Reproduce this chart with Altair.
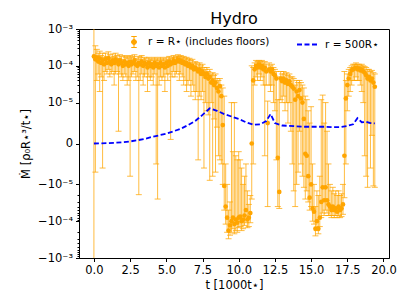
import math
import altair as alt
import pandas as pd

# Mass flux values are given in units of 1e-5 (rho0 R*^3 / t*)
ORANGE_LABEL = "r = R⋆  (includes floors)"
BLUE_LABEL = "r = 500R⋆"

T_A = [0.0, 0.1, 0.2, 0.3, 0.4, 0.5, 0.6, 0.7, 0.8, 0.9,
       1.0, 1.1, 1.2, 1.3, 1.4, 1.5, 1.6, 1.7, 1.8, 1.9,
       2.0, 2.1, 2.2, 2.3, 2.4, 2.5, 2.6, 2.7, 2.8, 2.9,
       3.0, 3.1, 3.2, 3.3, 3.4, 3.5, 3.6, 3.7, 3.8, 3.9,
       4.0, 4.1, 4.2, 4.3, 4.4, 4.5, 4.6, 4.7, 4.8, 4.9,
       5.0, 5.1, 5.2, 5.3, 5.4, 5.5, 5.6, 5.7, 5.8, 5.9,
       6.0, 6.1, 6.2, 6.3, 6.4, 6.5, 6.6, 6.7, 6.8, 6.9,
       7.0, 7.1, 7.2, 7.3, 7.4, 7.5, 7.6, 7.7, 7.8, 7.9,
       8.0, 8.1, 8.2, 8.3]
Y_A = [18, 15, 17, 13, 16, 12, 14, 11, 15, 12,
       16, 13, 11, 14, 12, 15, 13, 11, 14, 12,
       10, 13, 11, 12, 10, 13, 11, 12, 14, 11,
       10, 12, 11, 13, 10, 12, 11, 9, 12, 10,
       11, 9, 12, 10, 11, 9, 12, 10, 11, 9,
       12, 10, 13, 11, 12, 14, 12, 13, 15, 13,
       14, 12, 13, 11, 12, 10, 11, 9, 10, 8,
       9, 8, 7, 8, 6, 7, 6, 5, 6, 4.5,
       5, 3.5, 4, 3]
LO_A = [-300, -0.7, 4, 6, 2, 5, -0.6, 4, 7, 6,
        8, 5, 6, 7, 3, 6, 7, 0.3, 6, 5,
        4, 6, 5, 3, 4, -0.8, 5, 6, 7, 4,
        5, -1.9, 4, 6, 3, 5, 6, 2, 5, 4,
        5, 3, 6, -0.5, -2.5, 3, 5, 4, 5, 2,
        6, 4, 6, 0.1, 5, 7, 5, 6, 7, 4,
        6, 5, 3, 4, 2, 3, 4, 1.5, 3, 2,
        1.2, 2, -0.4, 1.5, 1.2, 2, -0.6, 1, 0.8, 0.7,
        -0.9, 1, -0.8, 0.6]
HI_A = [300, 35, 28, 22, 25, 19, 22, 17, 22, 18,
        24, 20, 17, 21, 18, 22, 19, 16, 20, 18,
        15, 19, 17, 18, 16, 19, 17, 18, 20, 16,
        15, 18, 17, 19, 15, 17, 16, 14, 17, 15,
        16, 14, 17, 15, 16, 14, 17, 15, 16, 14,
        17, 15, 18, 16, 17, 19, 17, 18, 20, 18,
        19, 17, 18, 16, 17, 15, 16, 14, 15, 12,
        13, 12, 11, 12, 10, 11, 9, 8, 9, 7,
        8, 6, 6.5, 5.5]

T_B = [8.4, 8.5, 8.6, 8.7, 8.8, 8.9, 9.0, 9.1, 9.2, 9.3,
       9.4, 9.5, 9.6, 9.7, 9.8, 9.9, 10.0, 10.1, 10.2, 10.3,
       10.4, 10.5, 10.6, 10.7, 10.8, 10.9, 11.0, 11.1, 11.2, 11.3,
       11.4, 11.5, 11.6, 11.7, 11.8, 11.9, 12.0, 12.1, 12.2, 12.3,
       12.4, 12.5, 12.6, 12.7, 12.8, 12.9, 13.0, 13.1, 13.2, 13.3,
       13.4, 13.5, 13.6, 13.7, 13.8, 13.9, 14.0, 14.1, 14.2, 14.3,
       14.4, 14.5, 14.6, 14.7, 14.8, 14.9, 15.0, 15.1, 15.2, 15.3,
       15.4, 15.5, 15.6, 15.7, 15.8, 15.9, 16.0, 16.1, 16.2, 16.3,
       16.4, 16.5, 16.6, 16.7, 16.8, 16.9, 17.0, 17.1, 17.2, 17.3,
       17.4, 17.5, 17.6, 17.7, 17.8, 17.9, 18.0, 18.1, 18.2, 18.3,
       18.4, 18.5, 18.6, 18.7, 18.8, 18.9, 19.0, 19.1, 19.2, 19.3,
       19.4]
Y_B = [3.5, 2.5, 2, 2.8, 1.5, 0.45, -1.1, -4, -8, -18,
       -13, -10, -8, -12, -9, -11, -8, -7.5, -10, -9,
       -7, -5, -9, -8, -6, 0, 4, 8, 10, 9,
       11, 9, 10, 8, 9, 7, 0.5, 8, 7, 8,
       6, 5.5, 4.5, -0.35, -1.6, 4.5, 3.8, 4.5, 3.5, 4,
       3.2, 3.8, 3, 2.7, 2.4, 1.2, 2, 1.5, 2.2, 1.3,
       1.0, 0.6, -0.25, -0.3, -0.8, -2.3, -1.0, -4.5, -5.5, -16,
       -10, -16, -8, -3, -1.2, -2.7, -1.2, -2.7, -3.5, -4,
       -5, -4, -5, -4.5, -5.5, -4, -5, -4.5, -3.5, -0.3,
       1.3, 3, 4.5, 6, 7.5, 8, 8.5, 9, 8, 8.5,
       7.5, 8, 7, 6.5, 5.5, 4.5, 5, 4, 4.5, 3.5,
       2.7]
LO_B = [-0.7, 0.4, -0.3, -0.4, -0.5, -1.0, -5, -12, -20, -30,
        -24, -20, -16, -22, -18, -20, -15, -14, -18, -16,
        -13, -11, -15, -14, -11, -2.5, -0.5, 3, 5, 4,
        6, 4, 5, 3, -0.3, 3, -4, 3, 2, 3,
        1, 0.8, -0.4, -4, -4.5, 1.2, 1, 1.5, 0.8, 1,
        0.5, 1, 0.3, -0.5, -1.5, -4, -1, -0.7, 0.3, -0.5,
        -0.8, -1.2, -2.5, -1.5, -3, -5, -4, -10, -12, -25,
        -18, -22, -14, -8, -6, -7, -5, -6, -7, -7,
        -8, -7, -8, -7, -8, -7, -8, -7.5, -6.5, -2.3,
        -0.5, 0.8, 1.5, 2, 3, 4, 4, 5, 4, 4,
        3, 2, 1, -0.3, -0.8, -1.2, 0.5, -0.6, 0.2, -1.1,
        -1.2]
HI_B = [6, 4.5, 4, 4.5, 3, 2.5, 1.5, -0.5, -1, -5,
        -3, 1.0, -0.2, 1.0, -0.3, -0.4, -0.2, -0.4, -0.6, -1,
        -0.8, -0.5, -1.5, -3.5, -2, 10, 9, 12, 14, 13,
        14, 13, 14, 12, 13, 11, 1.1, 12, 10, 11,
        9, 8, 7, 1.2, 5, 7, 6, 7, 6, 6.5,
        5.5, 6, 5, 5, 4.5, 3, 4, 3.5, 4, 3.5,
        3, 2.5, 1.5, 1.2, 0.8, 0.5, 0.9, -0.5, -1, -4,
        -1.5, -2, -0.8, 1.2, 1.6, 0.5, 1.0, 0.3, -0.5, -1,
        -1.5, -1.2, -1.8, -1.5, -2, -1.5, -2, -1.8, -1, 7,
        4, 6, 8, 9, 10, 11, 11, 12, 11, 11,
        10, 11, 10, 9.5, 9, 8, 8, 7, 7.5, 6.5,
        6]

# r = 500 R* curve (units of 1e-5)
T_OUT = [0, 0.5, 1, 1.5, 2, 2.5, 3, 3.5, 4, 4.5, 5, 5.5, 6, 6.5, 7, 7.5, 8,
         8.5, 9, 9.5, 10, 10.5, 11, 11.5, 11.9, 12.2, 12.5, 13, 13.5, 14,
         14.5, 15, 15.5, 16, 16.5, 17, 17.5, 17.9, 18.2, 18.5, 18.8, 19.1, 19.4]
V_OUT = [0, 0.005, 0.01, 0.02, 0.03, 0.05, 0.08, 0.11, 0.16, 0.2, 0.24, 0.3,
         0.36, 0.45, 0.55, 0.7, 0.86, 0.8, 0.72, 0.66, 0.6, 0.52, 0.46, 0.47,
         0.55, 0.72, 0.5, 0.44, 0.43, 0.42, 0.41, 0.41, 0.41, 0.41, 0.40, 0.40,
         0.43, 0.47, 0.62, 0.52, 0.53, 0.50, 0.49]

X_TICKS = [0, 2.5, 5, 7.5, 10, 12.5, 15, 17.5, 20]

LS = 1.0 / 0.9  # matplotlib symlog linscale factor (linthresh = 1e-5)
MAJOR = [-(LS + 2), -(LS + 1), -LS, 0, LS, LS + 1, LS + 2]
MINOR = []
for d in range(2):
    for k in range(2, 10):
        u = LS + d + math.log10(k)
        MINOR += [u, -u]

pts = pd.DataFrame({
    "t": T_A + T_B, "y": Y_A + Y_B, "lo": LO_A + LO_B, "hi": HI_A + HI_B,
})
pts["series"] = ORANGE_LABEL
out = pd.DataFrame({"t": T_OUT, "v": V_OUT})
out["series"] = BLUE_LABEL


def sym(f):
    return (f"abs(datum.{f}) <= 1 ? {LS}*datum.{f} : "
            f"(datum.{f} > 0 ? 1 : -1)*({LS} + log(abs(datum.{f}))/LN10)")


FONT = "DejaVu Sans"
xscale = alt.Scale(domain=[-1.03, 20.38], nice=False, zero=False)
yscale = alt.Scale(domain=[-(LS + 2), LS + 2], nice=False, zero=False)

label_expr = ("datum.value > 3 ? '10⁻³' : datum.value > 2 ? '10⁻⁴' : "
              "datum.value > 1 ? '10⁻⁵' : datum.value > -0.5 ? '0' : "
              "datum.value > -1.5 ? '−10⁻⁵' : datum.value > -2.5 ? '−10⁻⁴' : '−10⁻³'")

xax = alt.Axis(values=X_TICKS, format=".1f", title="t [1000t⋆]", grid=False,
               tickSize=3.5, labelFontSize=11.5, titleFontSize=11.5,
               labelFont=FONT, titleFont=FONT, titleFontWeight="normal",
               domainColor="black", tickColor="black", labelColor="black",
               titleColor="black", labelPadding=3, titlePadding=3,
               labelOverlap=False, labelFlush=False)
yax = alt.Axis(values=MAJOR, labelExpr=label_expr, title="Ṁ [ρ₀R⋆³/t⋆]",
               grid=False, tickSize=3.5, labelFontSize=11.5, titleFontSize=11.5,
               labelFont=FONT, titleFont=FONT, titleFontWeight="normal",
               domainColor="black", tickColor="black", labelColor="black",
               titleColor="black", labelPadding=3, titlePadding=6,
               labelOverlap=False, labelFlush=False)
yminor = alt.Axis(values=MINOR, labels=False, title=None, grid=False,
                  tickSize=2, domain=False, tickColor="black", orient="left")

X = alt.X("t:Q", scale=xscale, axis=xax)

base = alt.Chart(pts).transform_calculate(
    uy=sym("y"), ulo=sym("lo"), uhi=sym("hi")
)

rules = base.mark_rule(color="orange", opacity=0.75, strokeWidth=1, clip=True).encode(
    x=X,
    y=alt.Y("ulo:Q", scale=yscale, axis=yax),
    y2="uhi:Q",
)
cap_lo = base.mark_tick(color="orange", opacity=0.75, orient="horizontal",
                        size=6, thickness=1, clip=True).encode(
    x=X, y=alt.Y("ulo:Q", axis=None))
cap_hi = base.mark_tick(color="orange", opacity=0.75, orient="horizontal",
                        size=6, thickness=1, clip=True).encode(
    x=X, y=alt.Y("uhi:Q", axis=None))

err_path = ("M-0.45,0 A0.45,0.45 0 1,1 0.45,0 A0.45,0.45 0 1,1 -0.45,0 Z "
            "M0,-1 L0,1 M-0.5,-1 L0.5,-1 M-0.5,1 L0.5,1")
points = base.mark_circle(size=22, opacity=1, clip=True).encode(
    x=X,
    y=alt.Y("uy:Q", axis=None),
    color=alt.Color("series:N",
                    scale=alt.Scale(domain=[ORANGE_LABEL], range=["orange"]),
                    legend=alt.Legend(title=None, orient="none", legendX=49,
                                      legendY=7, symbolType=err_path,
                                      symbolSize=121, symbolFillColor="orange",
                                      symbolStrokeColor="orange",
                                      symbolStrokeWidth=1, symbolOpacity=1,
                                      labelFontSize=10.5, labelFont=FONT,
                                      labelColor="black", labelOffset=8,
                                      padding=0)),
)

line = alt.Chart(out).transform_calculate(uv=sym("v")).mark_line(
    strokeDash=[5, 2.5], strokeWidth=1.8, clip=True).encode(
    x=X,
    y=alt.Y("uv:Q", scale=yscale, axis=yminor),
    color=alt.Color("series:N",
                    scale=alt.Scale(domain=[BLUE_LABEL], range=["blue"]),
                    legend=alt.Legend(title=None, orient="none", legendX=217,
                                      legendY=4, symbolType="stroke",
                                      symbolSize=441, symbolDash=[5, 2.5],
                                      symbolStrokeWidth=1.8,
                                      labelFontSize=10.5, labelFont=FONT,
                                      labelColor="black", labelOffset=6,
                                      padding=0)),
)

chart = alt.layer(rules, cap_lo, cap_hi, points, line).resolve_scale(
    color="independent"
).resolve_axis(y="independent").properties(
    width=310, height=229,
    title=alt.TitleParams("Hydro", fontSize=16, font=FONT, fontWeight="normal",
                          color="black", anchor="middle", offset=5, dy=9),
    autosize=alt.AutoSizeParams(type="none"),
    padding={"left": 71, "top": 21, "right": 10, "bottom": 40},
).configure_view(stroke="black", strokeWidth=1).configure_axisX(
    labelOverlap=False
)

chart.save("out.html", embed_options={"renderer": "svg", "actions": False})
